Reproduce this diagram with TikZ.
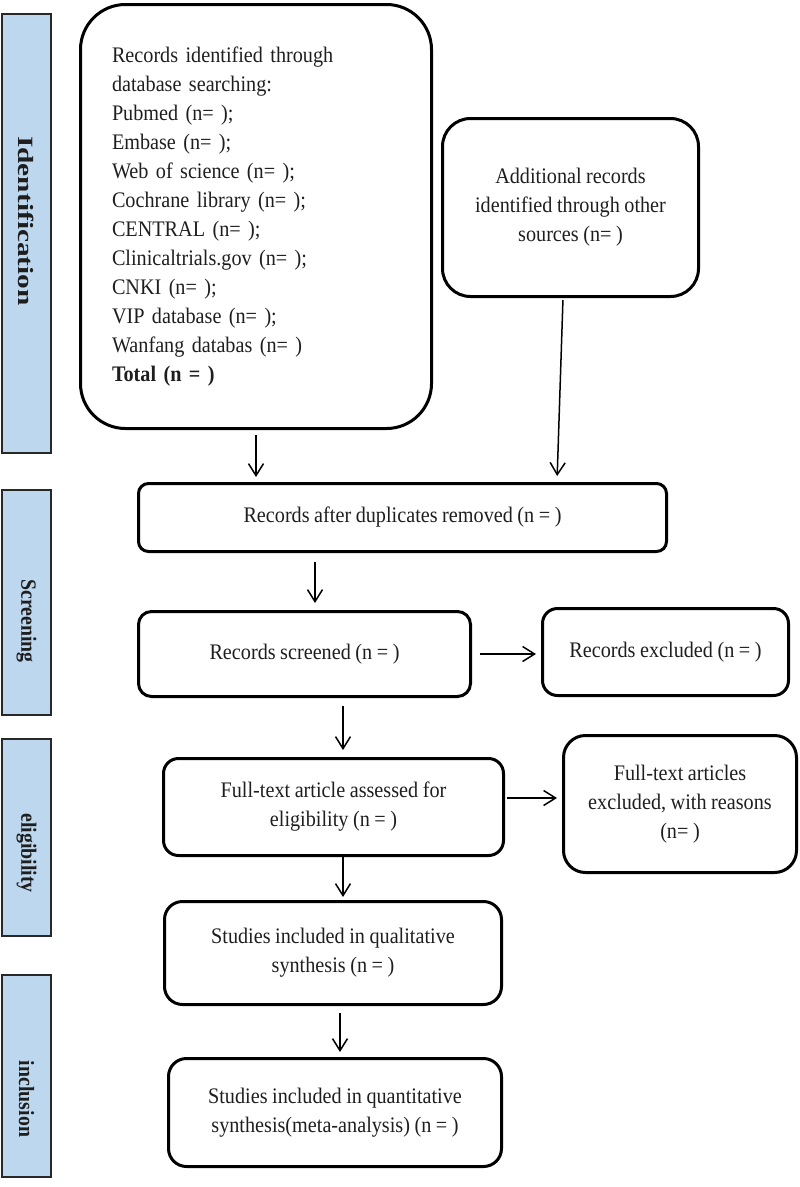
\documentclass[tikz,border=0pt]{standalone}
\usepackage{fontspec}
\setmainfont{Liberation Serif}[FakeStretch=0.91,WordSpace=0.9]
\usetikzlibrary{arrows.meta,calc}
\definecolor{barblue}{RGB}{189,215,238}
\definecolor{bardraw}{RGB}{40,40,40}
\definecolor{txt}{RGB}{30,30,30}
\tikzset{
  box/.style={draw=black, line width=3pt, rectangle, rounded corners=#1, align=center,
    inner sep=0pt, text=txt, font=\fontsize{22.2}{29}\selectfont},
  box/.default=14pt,
  phase/.style={draw=bardraw, line width=1.2pt, fill=barblue, minimum width=49pt, inner sep=0pt},
  phaselabel/.style={rotate=-90, text=txt, font=\bfseries\fontsize{21.8}{22}\selectfont},
  arr/.style={line width=1.5pt, -{Straight Barb[length=12pt,width=15pt]}},
}
\begin{document}
\begin{tikzpicture}[x=1pt,y=-1pt]
\useasboundingbox (0,0) rectangle (800,1187);
% phase bars
\node[phase, minimum height=439pt] (p1) at (26.5,233.5) {};
\node[phase, minimum height=225pt] (p2) at (26.5,602.5) {};
\node[phase, minimum height=197pt] (p3) at (26.5,837.5) {};
\node[phase, minimum height=202pt] (p4) at (26.5,1076) {};
\node[phaselabel] (l1) at (26.5,221) {\scalebox{1.48}[1]{Identification}};
\node[phaselabel] (l2) at (26.5,621) {Screening};
\node[phaselabel] (l3) at (26.5,853) {eligibility};
\node[phaselabel] (l4) at (26.5,1099) {inclusion};
% boxes
\node[box=45pt, minimum width=351pt, minimum height=424pt, align=left, text width=288pt] (b1) at (256,216.5)
 {Records identified through\\ database searching:\\ Pubmed (n= );\\ Embase (n= );\\ Web of science (n= );\\ Cochrane library (n= );\\ CENTRAL (n= );\\ Clinicaltrials.gov (n= );\\ CNKI (n= );\\ VIP database (n= );\\ Wanfang databas (n= )\\ \textbf{Total (n = )}};
\node[box=28pt, minimum width=256pt, minimum height=178pt] (b2) at (570.5,207.5)
 {Additional records\\identified through other\\sources (n= )};
\node[box=10pt, minimum width=528pt, minimum height=68pt] (b3) at (402.5,517.5)
 {Records after duplicates removed (n = )};
\node[box=13pt, minimum width=332pt, minimum height=85pt] (b4) at (304.5,654)
 {Records screened (n = )};
\node[box=15pt, minimum width=246pt, minimum height=87pt] (b5) at (665.5,652)
 {Records excluded (n = )};
\node[box=15pt, minimum width=340pt, minimum height=97pt] (b6) at (333.5,807)
 {Full-text article assessed for\\eligibility (n = )};
\node[box=22pt, minimum width=233pt, minimum height=137pt] (b7) at (680,804)
 {Full-text articles\\excluded, with reasons\\(n= )};
\node[box=18pt, minimum width=337pt, minimum height=103pt] (b8) at (333,953)
 {Studies included in qualitative\\synthesis (n = )};
\node[box=18pt, minimum width=333pt, minimum height=108pt] (b9) at (335,1112.5)
 {Studies included in quantitative\\synthesis(meta-analysis) (n = )};
% arrows
\draw[arr, shorten <=5pt, shorten >=5pt] (b1.south) -- (b1.south |- b3.north);
\draw[arr, shorten <=2pt, shorten >=6pt] ($(b2.south)+(-7.5,0)$) -- ($(b3.north)+(154.5,0)$);
\draw[arr, shorten <=9pt, shorten >=7pt] ($(b4.north |- b3.south)+(10.5,0)$) -- ($(b4.north)+(10.5,0)$);
\draw[arr, shorten <=8pt, shorten >=5pt] (b4.east) -- (b4.east -| b5.west);
\draw[arr, shorten <=8pt, shorten >=7pt] ($(b6.north |- b4.south)+(9.5,0)$) -- ($(b6.north)+(9.5,0)$);
\draw[arr, shorten <=2pt, shorten >=5pt] ($(b6.east)+(0,-9)$) -- ($(b6.east -| b7.west)+(0,-9)$);
\draw[arr, shorten >=3pt] ($(b6.south)+(9.5,0)$) -- ($(b8.north -| b6.south)+(9.5,0)$);
\draw[arr, shorten <=7pt, shorten >=5pt] ($(b8.south)+(7,0)$) -- ($(b9.north -| b8.south)+(7,0)$);
\end{tikzpicture}
\end{document}
